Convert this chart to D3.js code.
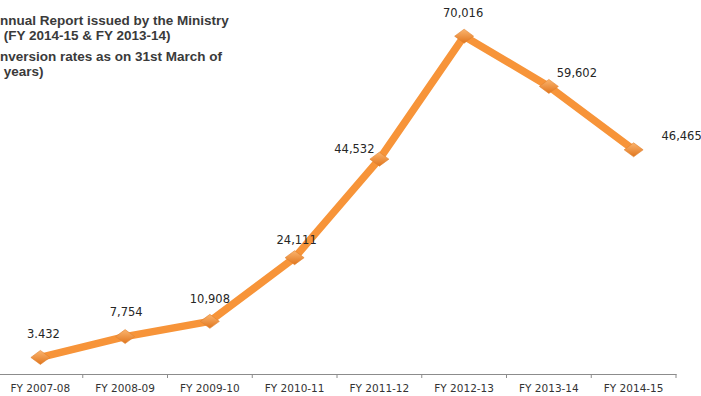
<!DOCTYPE html>
<meta charset="utf-8">
<script src="https://d3js.org/d3.v7.min.js"></script>
<style>
  body { margin: 0; background: #fff; }
</style>
<div id="chart"></div>
<script>
  // data
  const years = ["FY 2007-08", "FY 2008-09", "FY 2009-10", "FY 2010-11",
                 "FY 2011-12", "FY 2012-13", "FY 2013-14", "FY 2014-15"]
  const values = [3432, 7754, 10908, 24111, 44532, 70016, 59602, 46465]
  const labels = ["3.432", "7,754", "10,908", "24,111", "44,532", "70,016", "59,602", "46,465"]
  const titleLines = ["nnual Report issued by the Ministry", " (FY 2014-15 & FY 2013-14)",
                      "nversion rates as on 31st March of", " years)"]

  // label placement relative to each point (dx, dy)
  const labelOffset = [[3, -19], [1, -21], [0, -18], [2, -14], [-25, -6], [-1, -19], [28, -9], [48, -10]]

  const width = 701, height = 396

  const svg = d3.select("#chart").append("svg")
    .attr("width", width)
    .attr("height", height)

  const x = d3.scaleBand()
    .domain(years)
    .range([-2, 676])

  const y = d3.scaleLinear()
    .domain([0, 80000])
    .range([374, -12])

  // gradient for the diamond markers
  const grad = svg.append("defs").append("linearGradient")
    .attr("id", "mk").attr("x1", 0).attr("y1", 0).attr("x2", 0).attr("y2", 1)
  grad.append("stop").attr("offset", "0%").attr("stop-color", "#fbb46e")
  grad.append("stop").attr("offset", "100%").attr("stop-color", "#e0761e")

  // title (cut off at the left edge like the original)
  svg.append("g").selectAll("text")
    .data(titleLines)
    .join("text")
      .attr("x", 0)
      .attr("y", (d, i) => [25, 40, 61, 76][i])
      .attr("xml:space", "preserve")
      .style("font-family", "Liberation Sans, Arial, sans-serif")
      .style("font-weight", "bold")
      .style("font-size", "13.5px")
      .style("fill", "#3a3a3a")
      .text(d => d)

  // x axis
  const axis = svg.append("g")
    .attr("transform", "translate(0,374)")
    .call(d3.axisBottom(x).tickSize(0).tickPadding(11))
  axis.select(".domain").attr("stroke", "#8c8c8c")
  axis.selectAll("text")
    .style("font-family", "DejaVu Sans, Verdana, sans-serif")
    .style("font-size", "10.5px")
    .style("fill", "#333")
  // tick marks between categories
  axis.append("g").selectAll("line")
    .data(years)
    .join("line")
      .attr("x1", d => x(d) + x.bandwidth())
      .attr("x2", d => x(d) + x.bandwidth())
      .attr("y1", 0)
      .attr("y2", 4)
      .attr("stroke", "#8c8c8c")

  const pts = years.map((d, i) => [x(d) + x.bandwidth() / 2, y(values[i])])

  svg.append("path")
    .datum(pts)
    .attr("d", d3.line())
    .attr("fill", "none")
    .attr("stroke", "#f79439")
    .attr("stroke-width", 7.5)
    .attr("stroke-linejoin", "round")

  svg.append("g").selectAll("path")
    .data(pts)
    .join("path")
      .attr("transform", d => `translate(${d[0]},${d[1]})`)
      .attr("d", "M0,-7L9.5,0L0,7L-9.5,0Z")
      .attr("fill", "url(#mk)")
      .attr("stroke", "#e0822e")
      .attr("stroke-width", 0.6)

  svg.append("g").selectAll("text")
    .data(pts)
    .join("text")
      .attr("x", (d, i) => d[0] + labelOffset[i][0])
      .attr("y", (d, i) => d[1] + labelOffset[i][1])
      .attr("text-anchor", "middle")
      .style("font-family", "DejaVu Sans, Verdana, sans-serif")
      .style("font-size", "11.5px")
      .style("fill", "#262626")
      .text((d, i) => labels[i])
</script>
